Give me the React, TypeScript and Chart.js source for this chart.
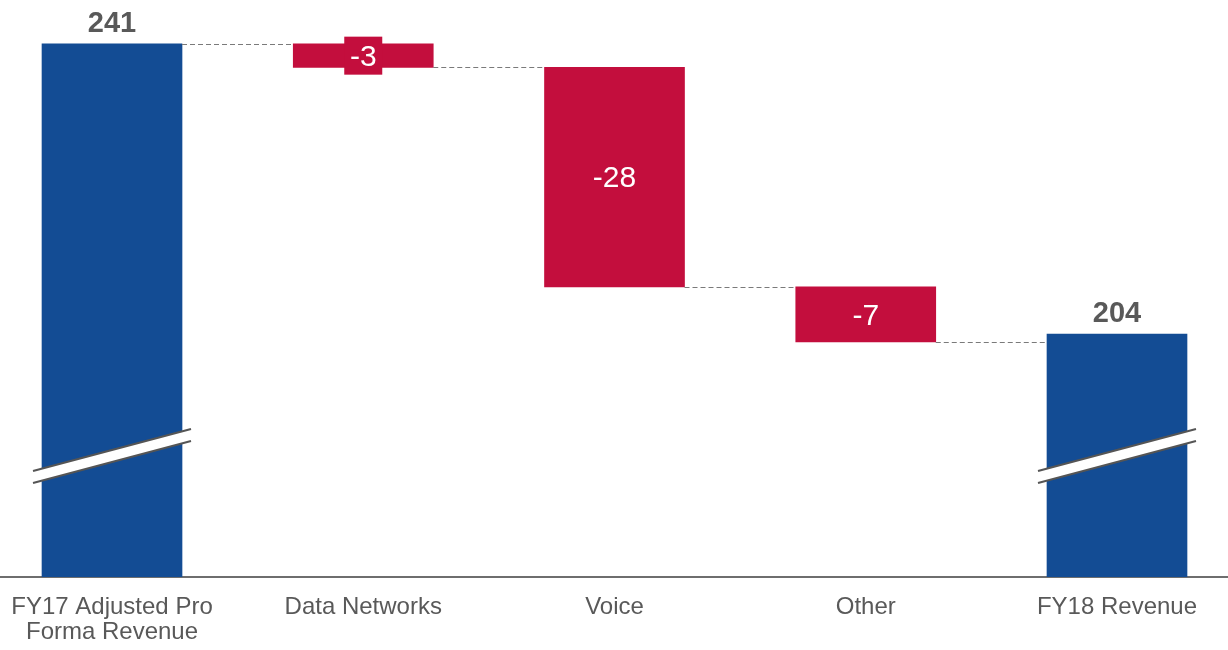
import React, { useEffect, useRef } from "react";
import { Chart, registerables } from "chart.js";

Chart.register(...registerables);

// Revenue bridge (US$ m)
const categories = ["FY17 Adjusted Pro Forma Revenue", "Data Networks", "Voice", "Other", "FY18 Revenue"];
const tickLabels: string[][] = [
  ["FY17 Adjusted Pro", "Forma Revenue"],
  ["Data Networks"],
  ["Voice"],
  ["Other"],
  ["FY18 Revenue"],
];
const openingTotal = 241;
const changes = [-3, -28, -7];
const closingTotal = 204;

// Broken value axis: the bars start from this value, not from zero
const Y_MIN = 173;
const Y_MAX = 246.6;

const BLUE = "#134C94";
const RED = "#C30E3D";
const LABEL_GREY = "#595959";
const FONT = "'Liberation Sans', Arial, sans-serif";

// Running totals: each change floats from the previous level
const levels: number[] = [openingTotal];
changes.forEach((c, i) => levels.push(levels[i] + c));

const totalPoints = [
  { x: 0, y: openingTotal },
  { x: categories.length - 1, y: closingTotal },
];
const changePoints = changes.map((c, i) => ({ x: i + 1, y: [levels[i + 1], levels[i]] as [number, number], delta: c }));

const bridgePlugin = {
  id: "bridge",
  afterDatasetsDraw(chart: any) {
    const ctx = chart.ctx as CanvasRenderingContext2D;
    const yScale = chart.scales.y;
    const totals = chart.getDatasetMeta(0).data;
    const deltas = chart.getDatasetMeta(1).data;
    const ordered = [totals[0], ...deltas, totals[1]];

    // dashed connectors between consecutive bars
    ctx.save();
    ctx.strokeStyle = "#7a7a7a";
    ctx.lineWidth = 1;
    ctx.setLineDash([5, 3]);
    for (let i = 0; i < ordered.length - 1; i++) {
      const a = ordered[i];
      const b = ordered[i + 1];
      const y = Math.round(yScale.getPixelForValue(levels[Math.min(i, levels.length - 1)])) + 0.5;
      ctx.beginPath();
      ctx.moveTo(a.x + a.width / 2, y);
      ctx.lineTo(b.x - b.width / 2, y);
      ctx.stroke();
    }
    ctx.restore();

    // axis-break marks across the total bars
    const bottom = chart.chartArea.bottom;
    totals.forEach((bar: any) => {
      const x0 = bar.x - bar.width / 2 - 9;
      const x1 = bar.x + bar.width / 2 + 9;
      const yL = bottom - 106;
      const yR = bottom - 148;
      const gap = 12;
      ctx.save();
      ctx.fillStyle = "#ffffff";
      ctx.beginPath();
      ctx.moveTo(x0, yL);
      ctx.lineTo(x1, yR);
      ctx.lineTo(x1, yR + gap);
      ctx.lineTo(x0, yL + gap);
      ctx.closePath();
      ctx.fill();
      ctx.strokeStyle = "#555555";
      ctx.lineWidth = 2;
      ctx.beginPath();
      ctx.moveTo(x0, yL);
      ctx.lineTo(x1, yR);
      ctx.moveTo(x0, yL + gap);
      ctx.lineTo(x1, yR + gap);
      ctx.stroke();
      ctx.restore();
    });

    // value labels
    ctx.save();
    ctx.textAlign = "center";
    const totalValues = [openingTotal, closingTotal];
    ctx.font = `bold 29px ${FONT}`;
    ctx.fillStyle = LABEL_GREY;
    ctx.textBaseline = "alphabetic";
    totals.forEach((bar: any, i: number) => {
      ctx.fillText(String(totalValues[i]), bar.x, bar.y - 12);
    });

    ctx.font = `30px ${FONT}`;
    ctx.textBaseline = "middle";
    deltas.forEach((bar: any, i: number) => {
      const top = Math.min(bar.y, bar.base);
      const h = Math.abs(bar.base - bar.y);
      const cy = top + h / 2;
      if (h < 34) {
        ctx.fillStyle = RED;
        ctx.fillRect(bar.x - 19, cy - 19, 38, 38);
      }
      ctx.fillStyle = "#ffffff";
      ctx.fillText(String(changes[i]), bar.x, cy + 2);
    });
    ctx.restore();
  },
};

export default function App() {
  const canvasRef = useRef<HTMLCanvasElement | null>(null);

  useEffect(() => {
    if (!canvasRef.current) return;
    const chart = new Chart(canvasRef.current, {
      type: "bar",
      data: {
        datasets: [
          {
            label: "Total",
            data: totalPoints as any,
            backgroundColor: BLUE,
            base: Y_MIN,
            barThickness: 140,
            grouped: false,
          } as any,
          {
            label: "Change",
            data: changePoints as any,
            backgroundColor: RED,
            barThickness: 140,
            grouped: false,
          } as any,
        ],
      },
      options: {
        animation: false,
        responsive: true,
        maintainAspectRatio: false,
        layout: { padding: 0 },
        plugins: {
          legend: { display: false },
          tooltip: { enabled: false },
        },
        scales: {
          x: {
            type: "linear",
            offset: false,
            min: -0.4458,
            max: 4.4418,
            grid: { display: false, drawTicks: false, offset: false },
            border: { display: true, color: "#6e6e6e", width: 2 },
            afterBuildTicks: (scale: any) => {
              scale.ticks = categories.map((_, i) => ({ value: i }));
            },
            afterFit: (scale: any) => {
              scale.height = 73;
              scale.paddingLeft = 0;
              scale.paddingRight = 0;
            },
            ticks: {
              autoSkip: false,
              maxRotation: 0,
              minRotation: 0,
              padding: 18,
              color: LABEL_GREY,
              font: { family: FONT, size: 24, lineHeight: 1.04 },
              callback: (v: any) => tickLabels[Math.round(Number(v))] ?? "",
            },
          },
          y: {
            display: false,
            min: Y_MIN,
            max: Y_MAX,
          },
        },
      },
      plugins: [bridgePlugin],
    });
    return () => chart.destroy();
  }, []);

  return (
    <div style={{ position: "fixed", left: 0, top: 0, width: 1228, height: 650, background: "#ffffff" }}>
      <canvas ref={canvasRef} />
    </div>
  );
}
